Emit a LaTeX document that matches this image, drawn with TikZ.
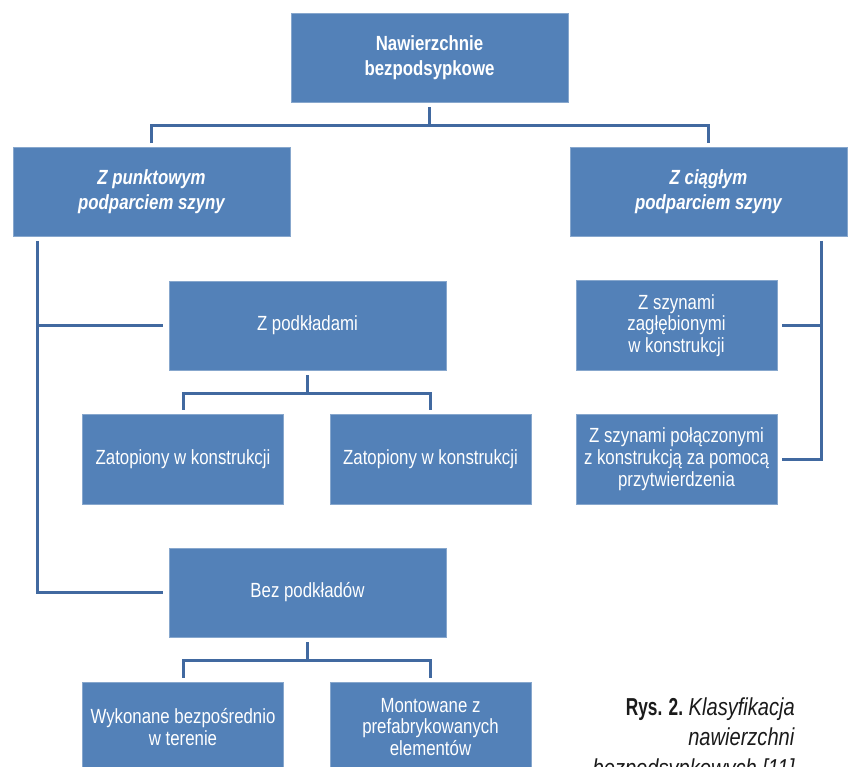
\documentclass[tikz,border=0pt]{standalone}
\usepackage{fontspec}
\setmainfont{Liberation Sans}[FakeStretch=0.82]
\usetikzlibrary{calc}
\definecolor{boxblue}{HTML}{5381B8}
\definecolor{lineblue}{HTML}{4169A0}
\definecolor{captext}{HTML}{1A1A1A}
\begin{document}
\begin{tikzpicture}[x=1pt,y=-1pt,
  box/.style={fill=boxblue,draw=boxblue!70!white,line width=0.6pt,text=white,align=center,inner sep=0pt,
    font=\fontsize{20.5}{21.7}\selectfont},
  widebox/.style={box,minimum width=277pt,minimum height=89pt},
  narrowbox/.style={box,minimum width=201pt,minimum height=90pt},
  headtext/.style={font=\fontsize{20.5}{25}\selectfont\bfseries},
  subhead/.style={font=\fontsize{20.5}{25}\selectfont\bfseries\itshape},
  conn/.style={draw=lineblue,line width=3pt,line join=miter},
  captxt/.style={anchor=base east,inner sep=0pt,text=captext,font=\fontsize{24.5}{24.5}\selectfont}]
\clip (0,0) rectangle (848,766);
\fill[white] (0,0) rectangle (848,766);

% nodes
\node[widebox,headtext] (top) at (429.5,57.5) {Nawierzchnie\\bezpodsypkowe};
\node[widebox,subhead] (L1) at (151.5,192) {Z punktowym\\podparciem szyny};
\node[widebox,subhead] (R1) at (708.5,192) {Z ciągłym\\podparciem szyny};
\node[widebox] (ZP) at (307.5,325.5) {Z podkładami};
\node[narrowbox] (Z1) at (183,459) {Zatopiony w konstrukcji};
\node[narrowbox] (Z2) at (430.5,459) {Zatopiony w konstrukcji};
\node[narrowbox] (R2) at (676.5,325.5) {Z szynami\\zagłębionymi\\w konstrukcji};
\node[narrowbox] (R3) at (676.5,459) {Z szynami połączonymi\\z konstrukcją za pomocą\\przytwierdzenia};
\node[widebox] (BP) at (307.5,592.5) {Bez podkładów};
\node[narrowbox] (W1) at (183,727) {Wykonane bezpośrednio\\w terenie};
\node[narrowbox] (W2) at (430.5,727) {Montowane z\\prefabrykowanych\\elementów};

% caption
\node[captxt] (cap1) at (795,715) {\scalebox{0.86}[1]{\textbf{Rys. 2.}} \textit{Klasyfikacja}};
\node[captxt] (cap2) at (795,745.5) {\textit{nawierzchni}};
\node[captxt] (cap3) at (795,776) {\textit{bezpodsypkowych [11]}};

% top tree
\coordinate (tm) at ($(top.south)+(0,23)$);
\draw[conn] ($(top.south)+(0,5)$) -- (tm);
\draw[conn] ($(L1.north)+(0,-4)$) |- (tm) -| ($(R1.north)+(0,-4)$);

% left spine
\coordinate (ls) at ($(L1.south west)+(25,4)$);
\draw[conn] (ls) |- ($(BP.west)+(-6,0)$);
\draw[conn] ($(ZP.west)+(-6,0)$) -- (ls |- ZP.west);

% right spine
\coordinate (rs) at ($(R1.south east)+(-26,4)$);
\draw[conn] (rs) |- ($(R3.east)+(5,0)$);
\draw[conn] ($(R2.east)+(5,0)$) -- (rs |- R2.east);

% Z podkladami tree
\coordinate (zm) at ($(ZP.south)+(0,23)$);
\draw[conn] ($(ZP.south)+(0,5)$) -- (zm);
\draw[conn] ($(Z1.north)+(0,-4)$) |- (zm) -| ($(Z2.north)+(0,-4)$);

% Bez podkladow tree
\coordinate (bm) at ($(BP.south)+(0,23)$);
\draw[conn] ($(BP.south)+(0,5)$) -- (bm);
\draw[conn] ($(W1.north)+(0,-4)$) |- (bm) -| ($(W2.north)+(0,-4)$);
\end{tikzpicture}
\end{document}
